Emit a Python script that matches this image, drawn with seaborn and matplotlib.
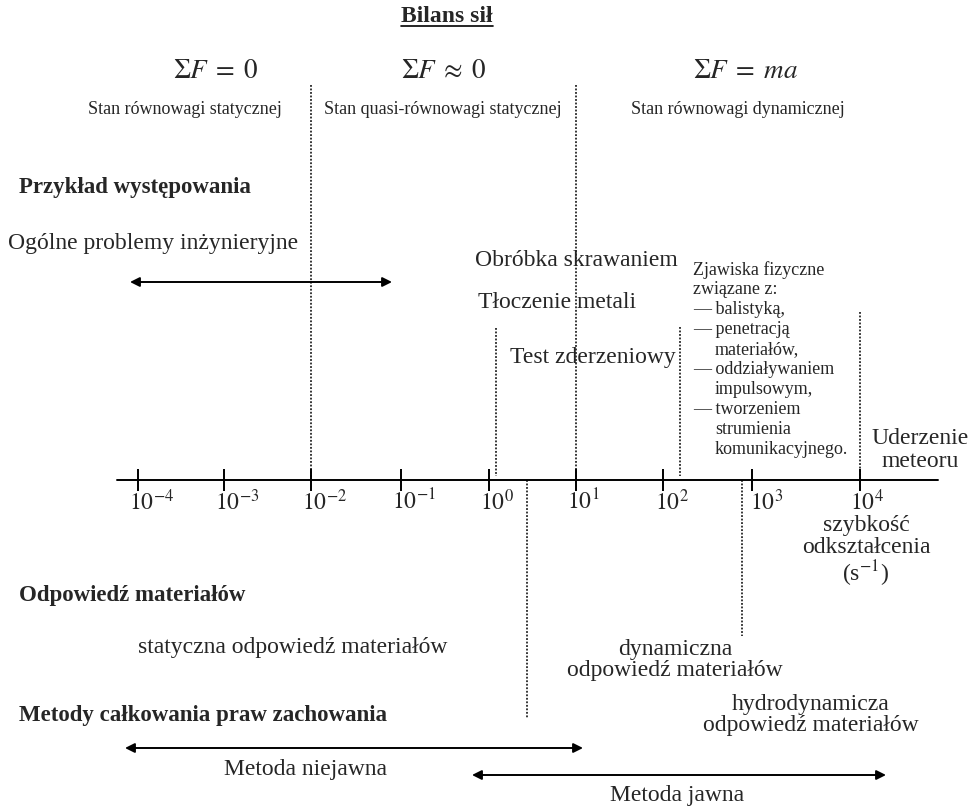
import numpy as np
import pandas as pd
import seaborn as sns
import matplotlib
import matplotlib.pyplot as plt

matplotlib.use('Agg')

# --- content ---
exponents = [-4, -3, -2, -1, 0, 1, 2, 3, 4]
title = 'Bilans sił'
balance_eq = [r'$\Sigma F \;=\; 0$', r'$\Sigma F \;\approx\; 0$', r'$\Sigma F \;=\; ma$']
balance_states = ['Stan równowagi statycznej', 'Stan quasi-równowagi statycznej',
                  'Stan równowagi dynamicznej']
section_heads = ['Przykład występowania', 'Odpowiedź materiałów',
                 'Metody całkowania praw zachowania']
examples = ['Ogólne problemy inżynieryjne', 'Obróbka skrawaniem', 'Tłoczenie metali',
            'Test zderzeniowy']
phenomena = ['Zjawiska fizyczne', 'związane z:', '— balistyką,', '— penetracją',
             'materiałów,', '— oddziaływaniem', 'impulsowym,', '— tworzeniem',
             'strumienia', 'komunikacyjnego.']
phen_indent = [0, 0, 0, 0, 1, 0, 1, 0, 1, 1]
meteor = 'Uderzenie\nmeteoru'
axis_label = 'szybkość\nodkształcenia\n(s$^{-1}$)'
responses = ['statyczna odpowiedź materiałów', 'dynamiczna\nodpowiedź materiałów',
             'hydrodynamicza\nodpowiedź materiałów']
methods = ['Metoda niejawna', 'Metoda jawna']

# --- layout (pixel coordinates of the 975x806 canvas) ---
tick_x = [138, 224, 311, 401, 489, 576, 663, 752, 860]
tick_lbl_dx = [-9, -9, -9, -9, -9, -9, -8, -2, -10]
axis_y = 480
dotted = pd.DataFrame({
    'x':    [311, 576, 496, 680, 860, 527, 742],
    'top':  [85, 85, 328, 327, 312, 480, 480],
    'bot':  [480, 480, 476, 476, 480, 718, 636],
})
arrows = [((130, 282), (392, 282)), ((125, 748), (583, 748)), ((472, 775), (886, 775))]

sns.set_theme(style='white')
plt.rcParams['font.family'] = ['Liberation Serif', 'DejaVu Serif']
plt.rcParams['mathtext.fontset'] = 'stix'

fig = plt.figure(figsize=(9.75, 8.06), dpi=100)
ax = fig.add_axes([0, 0, 1, 1])
ax.set_xlim(0, 975)
ax.set_ylim(806, 0)
ax.axis('off')

BIG = 17
SMALL = 13
EQ = 19.5

# title with underline
t = ax.text(447, 17, title, fontsize=BIG, fontweight='bold', ha='center', va='center')
fig.canvas.draw()
bb = t.get_window_extent(fig.canvas.get_renderer()).transformed(ax.transData.inverted())
ax.plot([bb.x0, bb.x1], [26, 26], color='black', lw=1.2)

for s, x in zip(balance_eq, [216, 444, 746]):
    ax.text(x, 72, s, fontsize=EQ, ha='center', va='center')
for s, x in zip(balance_states, [185, 443, 738]):
    ax.text(x, 110, s, fontsize=SMALL, ha='center', va='center')

for s, y in zip(section_heads, [188, 595, 715]):
    ax.text(19, y, s, fontsize=BIG - 0.5, fontweight='bold', ha='left', va='center')

ax.text(8, 243, examples[0], fontsize=BIG, ha='left', va='center')
ax.text(475, 260, examples[1], fontsize=BIG, ha='left', va='center')
ax.text(478, 302, examples[2], fontsize=BIG, ha='left', va='center')
ax.text(510, 358, examples[3], fontsize=BIG, ha='left', va='center')

for i, (s, ind) in enumerate(zip(phenomena, phen_indent)):
    ax.text(693 + 22 * ind, 270 + 20 * i, s, fontsize=SMALL, ha='left', va='center')

ax.text(920, 450, meteor, fontsize=BIG, ha='center', va='center', linespacing=1.1)

# dotted separators
for _, r in dotted.iterrows():
    ax.plot([r['x'], r['x']], [r['top'], r['bot']], color='black', lw=1.1,
            linestyle=(0, (1.2, 1.1)))

# strain-rate axis
sns.lineplot(x=[117, 938], y=[axis_y, axis_y], color='black', lw=1.4, ax=ax)
sns.scatterplot(x=tick_x, y=[axis_y] * len(tick_x), marker='|', s=260,
                color='black', linewidth=1.4, ax=ax)
for e, x, dx in zip(exponents, tick_x, tick_lbl_dx):
    ax.text(x + dx, 502, f'$10^{{{e}}}$', fontsize=BIG, ha='left', va='center')
ax.text(866, 552, axis_label, fontsize=BIG, ha='center', va='center', linespacing=1.05)

# material response
ax.text(138, 647, responses[0], fontsize=BIG, ha='left', va='center')
ax.text(675, 660, responses[1], fontsize=BIG, ha='center', va='center', linespacing=1.0)
ax.text(811, 715, responses[2], fontsize=BIG, ha='center', va='center', linespacing=1.0)

# integration methods
for (p0, p1) in arrows:
    ax.annotate('', xy=p1, xytext=p0,
                arrowprops=dict(arrowstyle='<|-|>', color='black', lw=1.4,
                                mutation_scale=14, shrinkA=0, shrinkB=0))
ax.text(306, 770, methods[0], fontsize=BIG, ha='center', va='center')
ax.text(677, 795, methods[1], fontsize=BIG, ha='center', va='center')

fig.savefig('out.png', dpi=100, facecolor='white')
